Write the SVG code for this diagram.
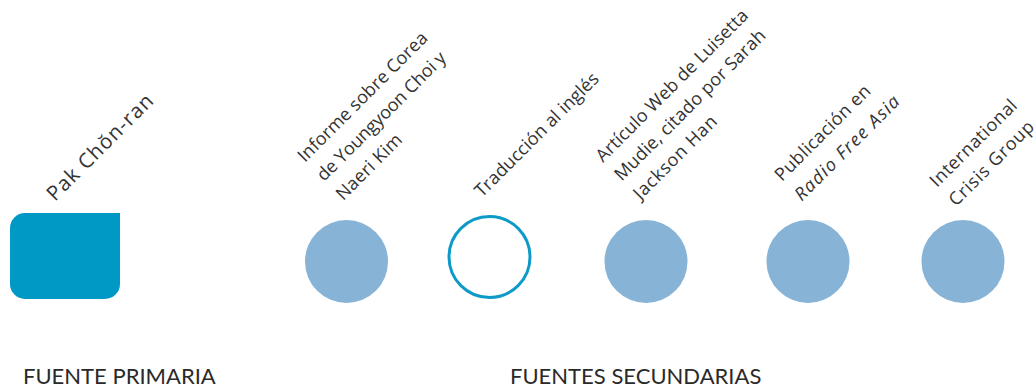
<svg xmlns="http://www.w3.org/2000/svg" width="1035" height="387" viewBox="0 0 1035 387">
<style>
.lbl{font-family:"Open Sans","Lato","Liberation Sans",sans-serif;font-size:18px;fill:#333333;}
.cat{font-family:"Lato","Liberation Sans",sans-serif;font-size:22px;fill:#2a2a2a;}
.sec{fill:#86B3D6;}
</style>
<rect width="1035" height="387" fill="#ffffff"/>
<g id="primary">
<path d="M25,213 H120 V284 A15,15 0 0 1 105,299 H25 A15,15 0 0 1 10,284 V228 A15,15 0 0 1 25,213 Z" fill="#0099C6"/>
<text class="lbl" style="font-size:20.5px" transform="translate(55,202) rotate(-45)" textLength="141" lengthAdjust="spacing">Pak Chŏn-ran</text>
</g>
<g id="informe">
<circle class="sec" cx="346.5" cy="261.5" r="41.5"/>
<text class="lbl" transform="translate(305,163) rotate(-45)"><tspan x="0" y="0" textLength="175" lengthAdjust="spacing">Informe sobre Corea</tspan><tspan x="0" y="27" textLength="174" lengthAdjust="spacing">de Youngyoon Choi y</tspan><tspan x="0" y="54" textLength="85" lengthAdjust="spacing">Naeri Kim</tspan></text>
</g>
<g id="traduccion">
<circle cx="489.5" cy="257" r="40.5" fill="#ffffff" stroke="#0E9AC8" stroke-width="3"/>
<text class="lbl" transform="translate(482,198) rotate(-45)" textLength="167" lengthAdjust="spacing">Traducción al inglés</text>
</g>
<g id="articulo">
<circle class="sec" cx="646" cy="261.5" r="41.5"/>
<text class="lbl" transform="translate(603,163) rotate(-45)"><tspan x="0" y="0" textLength="207" lengthAdjust="spacing">Artículo Web de Luisetta</tspan><tspan x="0" y="26.5" textLength="205" lengthAdjust="spacing">Mudie, citado por Sarah</tspan><tspan x="0" y="53" textLength="110" lengthAdjust="spacing">Jackson Han</tspan></text>
</g>
<g id="rfa">
<circle class="sec" cx="808" cy="261.5" r="41.5"/>
<text class="lbl" transform="translate(782,182) rotate(-45)"><tspan x="0" y="0" textLength="127" lengthAdjust="spacing">Publicación en</tspan><tspan x="0" y="28" font-style="italic" textLength="140" lengthAdjust="spacing">Radio Free Asia</tspan></text>
</g>
<g id="icg">
<circle class="sec" cx="963" cy="261.5" r="41.5"/>
<text class="lbl" transform="translate(937,188) rotate(-45)"><tspan x="0" y="0" textLength="115" lengthAdjust="spacing">International</tspan><tspan x="0" y="27" textLength="112" lengthAdjust="spacing">Crisis Group</tspan></text>
</g>
<g id="connectors"></g>
<g id="categories">
<text class="cat" x="23" y="384">FUENTE PRIMARIA</text>
<text class="cat" x="510" y="384">FUENTES SECUNDARIAS</text>
</g>
</svg>
